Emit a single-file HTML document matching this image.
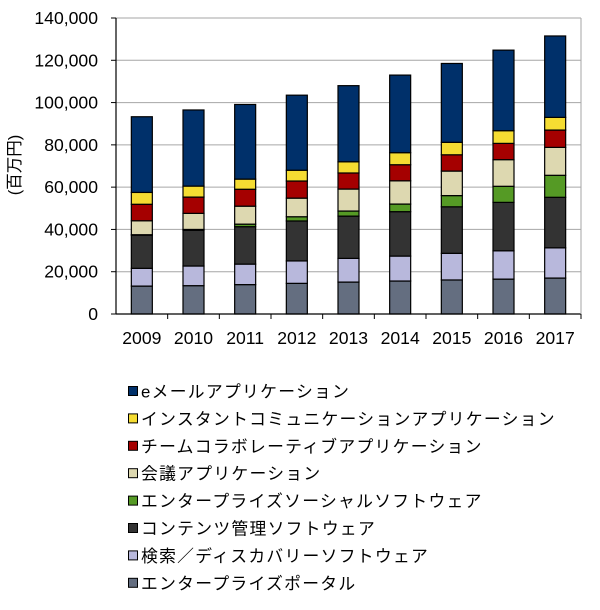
<!DOCTYPE html>
<html><head><meta charset="utf-8"><style>
body{margin:0;background:#fff;width:600px;height:605px;overflow:hidden;font-family:"Liberation Sans","Noto Sans CJK JP",sans-serif}
svg text{font-family:"Liberation Sans","Noto Sans CJK JP",sans-serif}
</style></head><body>
<svg id="c" width="600" height="605"></svg>
<script>
const years=["2009","2010","2011","2012","2013","2014","2015","2016","2017"];
const portal=[13.2,13.4,13.9,14.5,15.1,15.6,16.1,16.5,17.0];
const search=[8.4,9.3,9.7,10.6,11.2,11.8,12.6,13.4,14.3];
const content=[15.7,16.9,17.7,18.9,20.0,21.0,22.0,22.9,23.9];
const social=[0.2,0.4,1.2,2.0,2.4,3.6,5.3,7.6,10.4];
const conference=[6.6,7.6,8.5,8.8,10.4,11.0,11.6,12.6,13.2];
const team=[7.8,7.7,8.0,8.1,7.6,7.6,7.7,7.7,8.2];
const instant=[5.6,5.2,4.8,5.1,5.3,5.7,5.9,6.0,6.0];
const email=[35.8,36.0,35.3,35.5,36.0,36.7,37.3,38.1,38.5];
const yTicks=[0,20000,40000,60000,80000,100000,120000,140000];
const tickLabels=["0","20,000","40,000","60,000","80,000","100,000","120,000","140,000"];
const seriesNames=["エンタープライズポータル","検索／ディスカバリーソフトウェア","コンテンツ管理ソフトウェア","エンタープライズソーシャルソフトウェア","会議アプリケーション","チームコラボレーティブアプリケーション","インスタントコミュニケーションアプリケーション","eメールアプリケーション"];
const series=[portal,search,content,social,conference,team,instant,email];
const colors=["#646e80","#b8b8dc","#333333","#559a25","#ddd8b0","#a50000","#f5dc32","#00306a"];
const keys=["portal","search","content","social","conference","team","instant","email"];

const NS="http://www.w3.org/2000/svg",svg=document.getElementById("c");
const X0=116,X1=581,Y0=314,Y1=18,YMAX=140000;
const y=v=>Y0-(v/YMAX)*(Y0-Y1);
const bw=(X1-X0)/years.length;
const xc=i=>X0+bw*(i+0.5);
function mk(t,a,p){const e=document.createElementNS(NS,t);for(const k in a)e.setAttribute(k,a[k]);(p||svg).appendChild(e);return e;}

yTicks.forEach((t,i)=>{
  if(i>0){const g=mk("line",{x1:X0,x2:X1,y1:y(t),y2:y(t),stroke:"#a6a6a6","stroke-width":1});
  
  }
  const tk=mk("line",{x1:X0-5,x2:X0,y1:y(t),y2:y(t),stroke:"#000"});
  
  
  const l=mk("text",{x:X0-18,y:y(t)+6,"text-anchor":"end","font-size":17.6});
  l.textContent=tickLabels[i];
  
  
});
const yt=mk("text",{transform:"translate(20,165) rotate(-90)","text-anchor":"middle","font-size":16.5});
yt.textContent="(百万円)";



years.forEach((yr,i)=>{
  let cum=0;
  series.forEach((s,j)=>{
    const v=s[i]*1000;
    const r=mk("rect",{x:xc(i)-10.5,y:y(cum+v),width:21,height:Math.max(0,y(cum)-y(cum+v)),fill:colors[j],stroke:"#000","stroke-width":1.2});
    
    
    cum+=v;
  });
  const tx=mk("line",{x1:X0+bw*(i+1),x2:X0+bw*(i+1),y1:Y0,y2:Y0+5,stroke:"#000"});
  
  
  const l=mk("text",{x:xc(i),y:Y0+30,"text-anchor":"middle","font-size":17.6});
  l.textContent=yr;
  
  
});
const xa=mk("line",{x1:X0,x2:X1,y1:Y0,y2:Y0,stroke:"#000","stroke-width":1.2});


const ya=mk("line",{x1:X0,x2:X0,y1:Y1,y2:Y0,stroke:"#000","stroke-width":1.2});


const rb=mk("line",{x1:X1,x2:X1,y1:Y1,y2:Y0,stroke:"#a6a6a6"});



for(let k=0;k<8;k++){
  const j=7-k,ly=391+k*27.4;
  const sq=mk("rect",{x:128.5,y:ly-4.5,width:9,height:9,fill:colors[j],stroke:"#000","stroke-width":1});
  
  
  const t=mk("text",{x:141,y:ly+6.5,"font-size":16.8,"letter-spacing":"1.3"});
  t.textContent=seriesNames[j];
  
  
}
</script>
</body></html>
